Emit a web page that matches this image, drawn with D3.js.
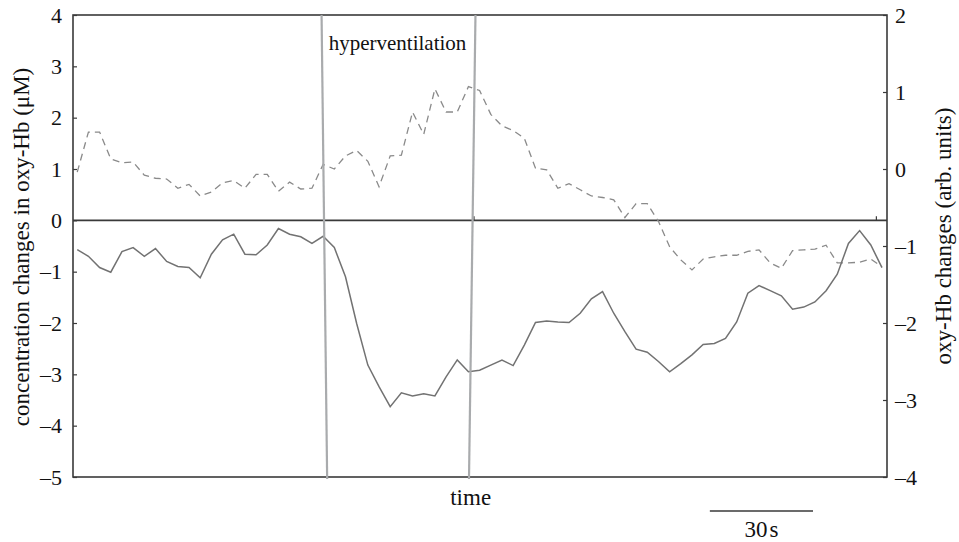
<!DOCTYPE html>
<html><head><meta charset="utf-8">
<script src="https://cdn.jsdelivr.net/npm/d3@7"></script>
<style>
html,body{margin:0;padding:0;background:#fff;}
text{font-family:"Liberation Serif","Times New Roman",serif;fill:#111;}
</style></head>
<body><svg id="chart" width="959" height="542"></svg>
<script>
// sample index (one sample every ~3.25 s)
const sampleSeconds = 3.25;
// oxy-Hb concentration change (µM), left axis — solid line
const concValues = [-0.57,-0.70,-0.92,-1.01,-0.61,-0.53,-0.70,-0.55,-0.80,-0.90,-0.92,-1.12,-0.66,-0.38,-0.27,-0.66,-0.67,-0.48,-0.16,-0.27,-0.32,-0.45,-0.31,-0.53,-1.10,-2.01,-2.82,-3.24,-3.63,-3.36,-3.42,-3.38,-3.42,-3.05,-2.72,-2.95,-2.92,-2.82,-2.72,-2.83,-2.43,-1.99,-1.96,-1.98,-1.99,-1.81,-1.53,-1.39,-1.81,-2.17,-2.51,-2.57,-2.75,-2.95,-2.79,-2.62,-2.42,-2.40,-2.30,-1.98,-1.42,-1.27,-1.37,-1.47,-1.73,-1.69,-1.59,-1.37,-1.05,-0.45,-0.20,-0.48,-0.92];
// oxy-Hb changes (arb. units), right axis — dashed line
const arbValues = [-0.04,0.48,0.48,0.13,0.08,0.09,-0.08,-0.12,-0.13,-0.25,-0.20,-0.35,-0.30,-0.18,-0.15,-0.25,-0.07,-0.07,-0.29,-0.17,-0.26,-0.25,0.06,0.00,0.17,0.24,0.10,-0.23,0.17,0.18,0.74,0.45,1.04,0.74,0.74,1.07,1.02,0.71,0.56,0.50,0.40,0.01,-0.01,-0.25,-0.19,-0.27,-0.35,-0.37,-0.40,-0.63,-0.45,-0.45,-0.68,-1.01,-1.18,-1.31,-1.17,-1.14,-1.12,-1.12,-1.07,-1.05,-1.22,-1.29,-1.06,-1.05,-1.04,-0.99,-1.22,-1.22,-1.21,-1.17,-1.27];
const leftTicks = [4,3,2,1,0,-1,-2,-3,-4,-5];
const rightTicks = [2,1,0,-1,-2,-3,-4];
const zeroLineTicks = [35.5, 71.5];
// hyperventilation markers: [sample at top, sample at bottom]
const eventMarks = [[21.86, 22.36],[35.63, 35.05]];
const eventLabel = "hyperventilation";
const scaleBarSeconds = 30;

const W = 959, H = 542;
const m = {left:73, right:72, top:15, bottom:65};
const svg = d3.select("#chart");
const x = d3.scaleLinear().domain([-0.38, 72.45]).range([m.left, W - m.right]);
const yL = d3.scaleLinear().domain([-5, 4]).range([H - m.bottom, m.top]);
const yR = d3.scaleLinear().domain([-4, 2]).range([H - m.bottom, m.top]);
const fmt = d => d < 0 ? "\u2013" + Math.abs(d) : String(d);
const axisColor = "#3a3a3a";
const FS = 22;
const TFS = 23;

// frame
svg.append("rect").attr("x", m.left).attr("y", m.top)
  .attr("width", W - m.left - m.right).attr("height", H - m.top - m.bottom)
  .attr("fill", "none").attr("stroke", axisColor).attr("stroke-width", 1.6);

// left axis
const gL = svg.append("g").attr("transform", `translate(${m.left},0)`)
  .call(d3.axisLeft(yL).tickValues(leftTicks).tickSize(-4).tickPadding(11).tickFormat(fmt));
gL.select(".domain").remove();
gL.selectAll(".tick line").attr("stroke", axisColor).attr("stroke-width", 1.2);
gL.selectAll(".tick text").attr("font-size", FS).attr("fill", "#111");

// right axis
const gR = svg.append("g").attr("transform", `translate(${W - m.right},0)`)
  .call(d3.axisRight(yR).tickValues(rightTicks).tickSize(-4).tickPadding(8).tickFormat(fmt));
gR.select(".domain").remove();
gR.selectAll(".tick line").attr("stroke", axisColor).attr("stroke-width", 1.2);
gR.selectAll(".tick text").attr("font-size", FS).attr("fill", "#111");

// zero line (time axis)
svg.append("line").attr("x1", m.left).attr("x2", W - m.right)
  .attr("y1", yL(0)).attr("y2", yL(0)).attr("stroke", axisColor).attr("stroke-width", 1.6);
svg.selectAll(".ztick").data(zeroLineTicks).enter().append("line")
  .attr("x1", d => x(d)).attr("x2", d => x(d))
  .attr("y1", yL(0)).attr("y2", yL(0) - 4).attr("stroke", axisColor).attr("stroke-width", 1.2);

// dashed series (right axis)
svg.append("path").datum(arbValues)
  .attr("d", d3.line().x((d, i) => x(i)).y(d => yR(d)))
  .attr("fill", "none").attr("stroke", "#8a8a8a").attr("stroke-width", 1.3)
  .attr("stroke-dasharray", "7,5");

// solid series (left axis)
svg.append("path").datum(concValues)
  .attr("d", d3.line().x((d, i) => x(i)).y(d => yL(d)))
  .attr("fill", "none").attr("stroke", "#727272").attr("stroke-width", 1.5);

// event markers
svg.selectAll(".ev").data(eventMarks).enter().append("line")
  .attr("x1", d => x(d[0])).attr("y1", m.top)
  .attr("x2", d => x(d[1])).attr("y2", H - m.bottom + 2)
  .attr("stroke", "#a9abad").attr("stroke-width", 2.2);
svg.append("text").attr("x", (x(eventMarks[0][0]) + x(eventMarks[1][0])) / 2 - 1).attr("y", 50)
  .attr("text-anchor", "middle").attr("font-size", 21).text(eventLabel);

// axis titles
svg.append("text").attr("transform", `translate(29,247) rotate(-90)`)
  .attr("text-anchor", "middle").attr("font-size", TFS).text("concentration changes in oxy-Hb (\u03bcM)");
svg.append("text").attr("transform", `translate(951,236) rotate(-90)`)
  .attr("text-anchor", "middle").attr("font-size", TFS).text("oxy-Hb changes (arb. units)");
svg.append("text").attr("x", x(35.2)).attr("y", 505)
  .attr("text-anchor", "middle").attr("font-size", TFS).text("time");

// scale bar
const barStart = 56.6;
const barLen = scaleBarSeconds / sampleSeconds;
svg.append("line").attr("x1", x(barStart)).attr("x2", x(barStart + barLen))
  .attr("y1", 511).attr("y2", 511).attr("stroke", axisColor).attr("stroke-width", 1.6);
svg.append("text").attr("x", x(barStart + barLen / 2)).attr("y", 537)
  .attr("text-anchor", "middle").attr("font-size", TFS).text(scaleBarSeconds + "\u200as");
</script></body></html>
